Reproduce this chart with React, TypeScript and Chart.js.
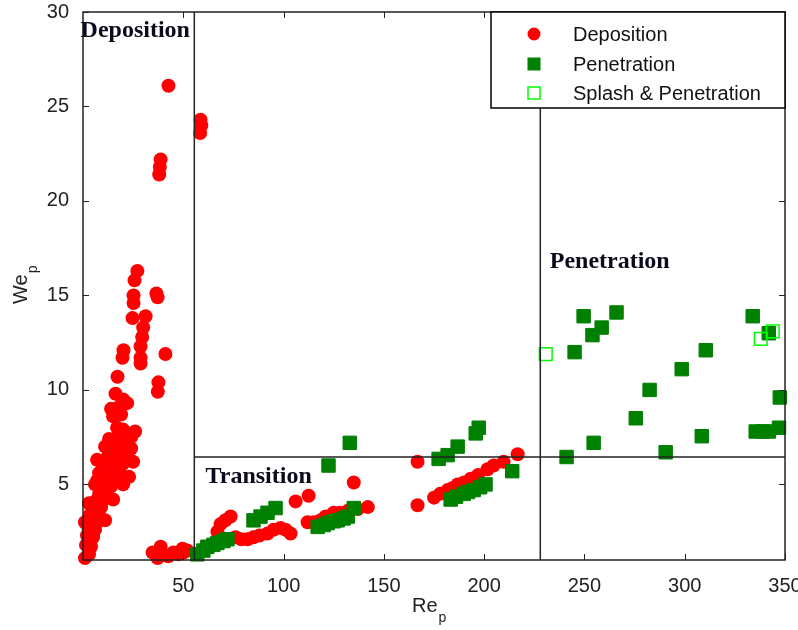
import React, { useEffect, useRef } from "react";
import { Chart, registerables } from "chart.js";

Chart.register(...registerables);

// ---- axes ----
const xRange: [number, number] = [0, 350];
const yRange: [number, number] = [1, 30];
const xTicks = [50, 100, 150, 200, 250, 300, 350];
const yTicks = [5, 10, 15, 20, 25, 30];

// ---- regime boundaries ----
const depositionLimitRe = 55.5;
const penetrationLimitRe = 228;
const transitionLimitWe = 6.45;

// ---- series (Re_p, We_p) ----
const deposition: [number, number][] = [
  [1, 1.1], [3, 1.3], [1.5, 1.8], [4, 1.7], [2, 2.3], [5, 2.2], [6, 2.6], [2.5, 2.8],
  [4, 3.0], [7, 3.0], [3.5, 3.4], [8, 3.4], [5, 3.7], [9, 3.8], [6, 4.1], [10, 4.2],
  [8, 4.5], [12, 4.5], [9, 4.9], [14, 4.9], [7, 5.2], [11, 5.2], [16, 5.3], [8, 5.6],
  [13, 5.6], [18, 5.7], [10, 6.0], [15, 6.0], [20, 6.1], [12, 6.4], [17, 6.4], [22, 6.5],
  [14, 6.8], [19, 6.8], [24, 6.9], [16, 7.2], [21, 7.2], [18, 7.6], [17, 8.0], [20, 7.9],
  [26, 7.8], [15, 8.6], [19, 8.7], [14, 9.0], [18, 9.1], [20, 9.5], [22, 9.3],
  [1, 3.0], [11, 3.1], [3, 4.0], [15, 4.2], [6, 5.0], [20, 5.0], [23, 5.4], [7, 6.3],
  [25, 6.2], [11, 7.0], [13, 7.4], [24, 7.5],
  [16.2, 9.8], [17.2, 10.7], [20.2, 12.1], [19.7, 11.7],
  [27.1, 16.3], [25.7, 15.8], [25.2, 15.0], [25.2, 14.6], [24.7, 13.8], [31.2, 13.9],
  [30, 13.3], [29.5, 12.8], [28.7, 12.3], [28.7, 11.7], [28.7, 11.4],
  [36.6, 15.1], [37.2, 14.9], [41.1, 11.9], [37.6, 10.4], [37.3, 9.9],
  [42.6, 26.1], [38.7, 22.2], [38.3, 21.8], [38, 21.4],
  [58.6, 24.3], [59, 24.0], [58.4, 23.6],
  [34.7, 1.4], [37.2, 1.1], [38.7, 1.7], [40.2, 1.3], [42.5, 1.2], [45.1, 1.4],
  [47.5, 1.3], [49.6, 1.6], [52, 1.5], [50.1, 1.4],
  [67, 2.5], [68.6, 2.9], [71, 3.1], [73.6, 3.3], [76, 2.2], [79, 2.1], [82, 2.1],
  [85, 2.2], [88, 2.3], [92, 2.4], [95, 2.6], [98.5, 2.7], [101, 2.6], [103.5, 2.4],
  [106, 4.1], [112.5, 4.4], [135, 5.1], [112, 3.0], [115, 3.0], [118.5, 3.1], [121, 3.3],
  [125, 3.5], [128, 3.5], [132, 3.6], [137, 3.7], [142, 3.8],
  [166.8, 6.2], [166.8, 3.9], [175, 4.3], [178, 4.5], [181.8, 4.7], [184, 4.8],
  [186.8, 5.0], [190, 5.1], [193.3, 5.3], [197, 5.5], [201.7, 5.8], [204.7, 6.0],
  [209.7, 6.2], [216.7, 6.6],
];

const penetration: [number, number][] = [
  [57, 1.3], [60, 1.5], [62, 1.7], [65, 1.8], [67, 1.9], [70, 2.0], [72, 2.1],
  [85, 3.1], [88.5, 3.3], [92, 3.5], [96, 3.75], [122.4, 6.0], [133, 7.2],
  [117, 2.75], [120, 2.85], [122, 2.95], [125, 3.05], [127, 3.1], [130, 3.2], [132, 3.3],
  [135, 3.75], [177.3, 6.35], [181.8, 6.55], [186.8, 7.0], [195.8, 7.7], [197.3, 8.0],
  [183.3, 4.2], [186, 4.35], [189.8, 4.5], [192, 4.6], [194.8, 4.7], [198, 4.85],
  [200.7, 5.0], [214, 5.7],
  [249.6, 13.9], [266, 14.1], [258.6, 13.3], [254, 12.9], [245.1, 12.0], [333.9, 13.9],
  [341.9, 13.0], [310.5, 12.1], [298.5, 11.1], [282.5, 10.0], [275.6, 8.5], [254.6, 7.2],
  [241.1, 6.45], [290.5, 6.7], [308.5, 7.55], [335.4, 7.8], [339, 7.8], [342, 7.8],
  [347, 8.0], [347.4, 9.6],
];

const splashPenetration: [number, number][] = [
  [230.7, 11.9], [337.9, 12.7], [343.9, 13.1],
];

const legendLabels = ["Deposition", "Penetration", "Splash & Penetration"];
const regionLabels: { text: string; x: number; y: number }[] = [
  { text: "Deposition", x: -1.2, y: 28.67 },
  { text: "Transition", x: 61.1, y: 5.07 },
  { text: "Penetration", x: 232.7, y: 16.45 },
];

const RED = "#ff0000";
const GREEN = "#008000";
const LIME = "#00ff00";
const INK = "#222222";

const toPts = (a: [number, number][]) => a.map(([x, y]) => ({ x, y }));

const decorPlugin = {
  id: "decor",
  afterDraw(chart: any) {
    const { ctx, chartArea: a, scales } = chart;
    const xs = scales.x;
    const ys = scales.y;
    ctx.save();

    // inward ticks
    ctx.strokeStyle = INK;
    ctx.lineWidth = 1;
    ctx.beginPath();
    for (const v of xTicks) {
      const px = Math.round(xs.getPixelForValue(v)) + 0.5;
      ctx.moveTo(px, a.bottom);
      ctx.lineTo(px, a.bottom - 6);
      ctx.moveTo(px, a.top);
      ctx.lineTo(px, a.top + 6);
    }
    for (const v of yTicks) {
      const py = Math.round(ys.getPixelForValue(v)) + 0.5;
      ctx.moveTo(a.left, py);
      ctx.lineTo(a.left + 6, py);
      ctx.moveTo(a.right, py);
      ctx.lineTo(a.right - 6, py);
    }
    ctx.stroke();

    // frame
    ctx.lineWidth = 1.5;
    ctx.strokeRect(a.left, a.top, a.right - a.left, a.bottom - a.top);

    // region labels
    ctx.fillStyle = "#0b0b1e";
    ctx.font = 'bold 24px "Liberation Serif", "DejaVu Serif", serif';
    ctx.textAlign = "left";
    ctx.textBaseline = "alphabetic";
    for (const r of regionLabels) {
      ctx.fillText(r.text, xs.getPixelForValue(r.x), ys.getPixelForValue(r.y));
    }

    // axis titles
    ctx.fillStyle = INK;
    const midX = (a.left + a.right) / 2;
    ctx.font = '20px "Liberation Sans", Arial, sans-serif';
    ctx.textAlign = "left";
    const reW = ctx.measureText("Re").width;
    const reX = midX - 22;
    ctx.fillText("Re", reX, 612);
    ctx.font = '14px "Liberation Sans", Arial, sans-serif';
    ctx.fillText("p", reX + reW + 1, 622);

    ctx.save();
    const midY = (a.top + a.bottom) / 2;
    ctx.translate(27, midY + 2);
    ctx.rotate(-Math.PI / 2);
    ctx.font = '20px "Liberation Sans", Arial, sans-serif';
    const weW = ctx.measureText("We").width;
    ctx.fillText("We", -16, 0);
    ctx.font = '14px "Liberation Sans", Arial, sans-serif';
    ctx.fillText("p", -16 + weW + 1, 10);
    ctx.restore();

    // legend
    const lw = 294;
    const lh = 96;
    const lx = a.right - lw;
    const ly = a.top;
    ctx.fillStyle = "#ffffff";
    ctx.fillRect(lx, ly, lw, lh);
    ctx.strokeStyle = "#000000";
    ctx.lineWidth = 1.5;
    ctx.strokeRect(lx, ly, lw, lh);
    const rows = [ly + 22, ly + 52, ly + 81];
    const mx = lx + 43;
    ctx.fillStyle = RED;
    ctx.beginPath();
    ctx.arc(mx, rows[0], 6.5, 0, Math.PI * 2);
    ctx.fill();
    ctx.fillStyle = GREEN;
    ctx.fillRect(mx - 6.5, rows[1] - 6.5, 13, 13);
    ctx.strokeStyle = LIME;
    ctx.lineWidth = 1.5;
    ctx.strokeRect(mx - 6, rows[2] - 6, 12, 12);
    ctx.fillStyle = "#111111";
    ctx.font = '20px "Liberation Sans", Arial, sans-serif';
    ctx.textBaseline = "middle";
    legendLabels.forEach((t, i) => ctx.fillText(t, lx + 82, rows[i] + 1));

    ctx.restore();
  },
};

export default function App() {
  const ref = useRef<HTMLCanvasElement | null>(null);

  useEffect(() => {
    if (!ref.current) return;
    const lineStyle = {
      showLine: true,
      borderColor: INK,
      borderWidth: 1.5,
      pointRadius: 0,
      fill: false,
      order: 0,
    };
    const chart = new Chart(ref.current, {
      type: "scatter",
      data: {
        datasets: [
          {
            ...lineStyle,
            data: [
              { x: depositionLimitRe, y: yRange[0] },
              { x: depositionLimitRe, y: yRange[1] },
            ],
          },
          {
            ...lineStyle,
            data: [
              { x: penetrationLimitRe, y: yRange[0] },
              { x: penetrationLimitRe, y: yRange[1] },
            ],
          },
          {
            ...lineStyle,
            data: [
              { x: depositionLimitRe, y: transitionLimitWe },
              { x: xRange[1], y: transitionLimitWe },
            ],
          },
          {
            label: legendLabels[2],
            data: toPts(splashPenetration),
            pointStyle: "rect",
            pointRadius: 9,
            backgroundColor: "rgba(0,0,0,0)",
            borderColor: LIME,
            borderWidth: 1.5,
            clip: false,
            order: 1,
          },
          {
            label: legendLabels[1],
            data: toPts(penetration),
            pointStyle: "rect",
            pointRadius: 9.5,
            backgroundColor: GREEN,
            borderColor: GREEN,
            borderWidth: 1,
            clip: false,
            order: 2,
          },
          {
            label: legendLabels[0],
            data: toPts(deposition),
            pointStyle: "circle",
            pointRadius: 7,
            backgroundColor: RED,
            borderColor: RED,
            borderWidth: 0,
            clip: false,
            order: 3,
          },
        ] as any,
      },
      options: {
        responsive: false,
        animation: false,
        events: [],
        layout: { padding: { left: 0, right: 13, top: 12, bottom: 0 } },
        plugins: { legend: { display: false }, tooltip: { enabled: false } },
        scales: {
          x: {
            type: "linear",
            min: xRange[0],
            max: xRange[1],
            grid: { display: false },
            border: { display: false },
            ticks: {
              font: { family: '"Liberation Sans", Arial, sans-serif', size: 20 },
              color: INK,
              padding: 6,
              maxRotation: 0,
            },
            afterBuildTicks: (s: any) => {
              s.ticks = xTicks.map((v) => ({ value: v }));
            },
            afterFit: (s: any) => {
              s.height = 70;
              s.paddingLeft = 0;
              s.paddingRight = 0;
            },
          },
          y: {
            type: "linear",
            min: yRange[0],
            max: yRange[1],
            grid: { display: false },
            border: { display: false },
            ticks: {
              font: { family: '"Liberation Sans", Arial, sans-serif', size: 20 },
              color: INK,
              padding: 6,
            },
            afterBuildTicks: (s: any) => {
              s.ticks = yTicks.map((v) => ({ value: v }));
            },
            afterFit: (s: any) => {
              s.width = 83;
              s.paddingTop = 0;
              s.paddingBottom = 0;
            },
          },
        },
      },
      plugins: [decorPlugin],
    });
    return () => chart.destroy();
  }, []);

  return (
    <div style={{ position: "absolute", left: 0, top: 0, width: 798, height: 630, background: "#fff" }}>
      <canvas ref={ref} width={798} height={630} style={{ width: 798, height: 630, display: "block" }} />
    </div>
  );
}
